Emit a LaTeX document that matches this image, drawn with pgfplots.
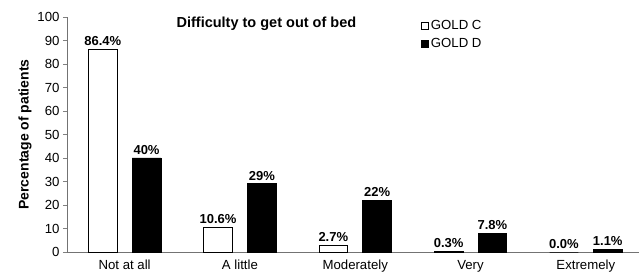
\documentclass[border=0pt]{standalone}
\usepackage{fontspec}
\setmainfont{Liberation Sans}
\usepackage{pgfplots}
\pgfplotsset{compat=1.18}
\begin{document}
\begin{tikzpicture}[x=1pt,y=1pt]
\useasboundingbox (-67,-23) rectangle (572,252);
\begin{axis}[
  at={(0,0)}, anchor=south west,
  scale only axis, width=573pt, height=235pt,
  xmin=-0.5, xmax=4.47, ymin=0, ymax=100,
  axis x line=bottom, axis y line=left,
  axis line style={-, draw=gray!90!black, line width=0.9pt},
  ytick={0,10,...,100},
  xtick={0,1,2,3,4},
  xticklabels={Not at all, A little, Moderately, Very, Extremely},
  major x tick style={draw=none},
  extra x ticks={-0.5,0.5,1.5,2.5,3.5},
  extra x tick labels={},
  extra x tick style={major tick length=4pt, tick style={draw=gray, line width=0.6pt}},
  tick align=outside,
  major tick length=4pt,
  ytick style={draw=gray, line width=0.6pt},
  /pgf/number format/assume math mode=true,
  tick label style={font=\fontsize{13.2}{15}\selectfont},
  xticklabel style={yshift=-0.5pt},
  yticklabel style={xshift=0pt},
  ylabel={\textbf{Percentage of patients}},
  ylabel style={font=\fontsize{14}{16}\selectfont, yshift=-1pt},
  ybar, bar width=0.25,
  nodes near coords,
  point meta=explicit symbolic,
  every node near coord/.append style={font=\bfseries\fontsize{13}{15}\selectfont, anchor=south, yshift=0pt},
  legend style={at={(rel axis cs:0.618,0.995)}, anchor=north west, draw=none, fill=none,
    font=\fontsize{13.2}{15}\selectfont, row sep=3pt, inner sep=0pt},
  legend cell align=left,
  legend image code/.code={\draw[#1, line width=0.6pt] (0pt,-3.5pt) rectangle (7pt,3.5pt);},
  clip=false,
]
\addplot[bar shift=-0.19, fill=white, draw=black, line width=0.7pt] coordinates {
  (0,86.4) [86.4\%]
  (1,10.6) [10.6\%]
  (2,2.7) [2.7\%]
  (3,0.3) [0.3\%]
  (4,0.0) [0.0\%]
};
\addplot[bar shift=0.19, fill=black, draw=black, line width=0.7pt] coordinates {
  (0,40) [40\%]
  (1,29) [29\%]
  (2,22) [22\%]
  (3,7.8) [7.8\%]
  (4,1.1) [1.1\%]
};
\legend{GOLD C, GOLD D}
\node[font=\bfseries\fontsize{14.5}{16}\selectfont, anchor=center] at (rel axis cs:0.348,0.97) {Difficulty to get out of bed};
\end{axis}
\end{tikzpicture}
\end{document}
